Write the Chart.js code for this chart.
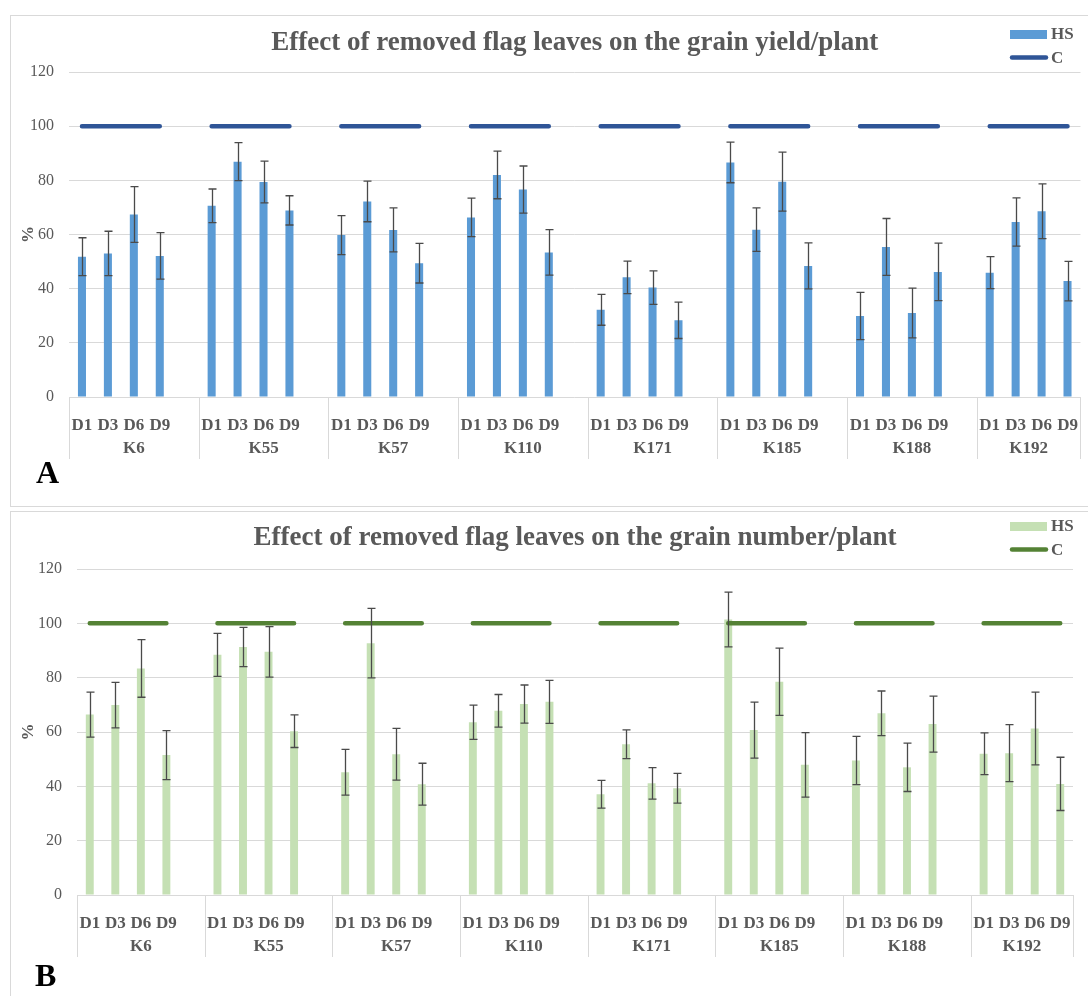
<!DOCTYPE html>
<html>
<head>
<meta charset="utf-8">
<script src="https://cdn.jsdelivr.net/npm/chart.js@4.4.1/dist/chart.umd.min.js"></script>
<style>
html,body{margin:0;padding:0;background:#fff;width:1088px;height:996px;overflow:hidden;position:relative;font-family:"Liberation Serif",serif;}
.panel{position:absolute;border:1px solid #d9d9d9;box-sizing:border-box;}
#pA{left:10px;top:15px;width:1100px;height:492px;}
#pB{left:10px;top:511px;width:1100px;height:490px;}
canvas{position:absolute;left:0;}
#cA{top:0;}
#cB{top:506px;}
.lab{position:absolute;font:bold 32px/32px "Liberation Serif",serif;color:#000;}
</style>
</head>
<body>
<div class="panel" id="pA"></div>
<div class="panel" id="pB"></div>
<canvas id="cA" width="1088" height="506"></canvas>
<canvas id="cB" width="1088" height="490"></canvas>
<div class="lab" style="left:36px;top:456px;">A</div>
<div class="lab" style="left:35px;top:959px;">B</div>
<script>
// ---------- data ----------
const groups = ['K6','K55','K57','K110','K171','K185','K188','K192'];
const days = ['D1','D3','D6','D9'];
const yTicks = [0,20,40,60,80,100,120];
const controlValue = 100;

// Panel A: grain yield/plant (%), HS means and error
const yieldHS  = [51.8,53.0,67.4,52.1, 70.6,86.9,79.4,68.9, 59.8,72.2,61.7,49.4, 66.3,82.0,76.6,53.4,
                  32.2,44.2,40.4,28.3, 86.6,61.8,79.5,48.4, 29.9,55.4,31.0,46.2, 45.9,64.6,68.6,42.8];
const yieldErr = [7.0,8.2,10.3,8.6, 6.2,7.0,7.7,5.4, 7.2,7.5,8.1,7.3, 7.1,8.8,8.7,8.4,
                  5.7,6.0,6.2,6.7, 7.5,8.0,10.9,8.5, 8.7,10.5,9.2,10.6, 5.9,8.9,10.1,7.3];

// Panel B: grain number/plant (%), HS means and error
const numberHS  = [66.4,69.9,83.4,51.5, 88.4,91.3,89.5,60.3, 45.2,92.7,51.8,40.8, 63.6,67.8,70.3,71.1,
                   37.1,55.5,41.1,39.3, 101.4,60.7,78.5,47.9, 49.5,66.9,47.0,62.9, 52.0,52.2,61.3,40.9];
const numberErr = [8.3,8.4,10.6,9.0, 7.9,7.2,9.3,6.0, 8.4,12.8,9.5,7.7, 6.3,6.0,7.0,7.9,
                   5.1,5.3,5.8,5.5, 10.1,10.3,12.4,11.9, 8.9,8.2,8.9,10.3, 7.7,10.5,13.4,9.8];

// ---------- helpers: one blank slot between groups ----------
function slotLabels(){
  const out=[];
  groups.forEach((g,gi)=>{ days.forEach(d=>out.push(d)); if(gi<groups.length-1) out.push(''); });
  return out;
}
function slotData(vals){
  const out=[];
  groups.forEach((g,gi)=>{ days.forEach((d,di)=>out.push(vals==null?controlValue:vals[gi*days.length+di])); if(gi<groups.length-1) out.push(null); });
  return out;
}

const TXT='#595959', GRID='#d9d9d9', SERIF='"Liberation Serif", "Times New Roman", serif';

const errorBars = {
  id:'errorBars',
  afterDatasetsDraw(chart){
    const ctx=chart.ctx, y=chart.scales.y;
    chart.data.datasets.forEach((ds,i)=>{
      if(!ds.errors) return;
      const meta=chart.getDatasetMeta(i);
      ctx.save();
      ctx.strokeStyle='#4a4a4a'; ctx.lineWidth=1.3;
      meta.data.forEach((el,j)=>{
        const v=ds.data[j], e=ds.errors[j];
        if(v==null||e==null) return;
        const x=Math.round(el.x)+0.5, t=y.getPixelForValue(v+e), b=y.getPixelForValue(v-e);
        ctx.beginPath();
        ctx.moveTo(x,t); ctx.lineTo(x,b);
        ctx.moveTo(x-4,t); ctx.lineTo(x+4,t);
        ctx.moveTo(x-4,b); ctx.lineTo(x+4,b);
        ctx.stroke();
      });
      ctx.restore();
    });
  }
};

const groupAxis = {
  id:'groupAxis',
  afterDraw(chart){
    const x=chart.scales.x, ctx=chart.ctx, ca=chart.chartArea;
    const half=(x.getPixelForTick(1)-x.getPixelForTick(0))/2;
    ctx.save();
    ctx.font='bold 17px '+SERIF; ctx.fillStyle=TXT; ctx.textAlign='center'; ctx.textBaseline='middle';
    const edges=[]; let slot=0;
    groups.forEach((g,gi)=>{
      const n=days.length+(gi<groups.length-1?1:0);
      const l=x.getPixelForTick(slot)-half, r=x.getPixelForTick(slot+n-1)+half;
      edges.push(l); if(gi===groups.length-1) edges.push(r);
      ctx.fillText(g,(l+r)/2,ca.bottom+52);
      slot+=n;
    });
    ctx.strokeStyle=GRID; ctx.lineWidth=1;
    edges.forEach(e=>{ const px=Math.round(e)+0.5; ctx.beginPath(); ctx.moveTo(px,ca.bottom); ctx.lineTo(px,ca.bottom+62); ctx.stroke(); });
    ctx.restore();
  }
};

const boxLegend = {
  id:'boxLegend',
  afterDraw(chart,args,o){
    const ctx=chart.ctx, ds=chart.data.datasets;
    ctx.save();
    ctx.fillStyle=ds[0].backgroundColor; ctx.fillRect(o.x,o.y,37,9);
    ctx.strokeStyle=ds[1].borderColor; ctx.lineWidth=4.5; ctx.lineCap='round';
    ctx.beginPath(); ctx.moveTo(o.x+2,o.y+27.5); ctx.lineTo(o.x+36,o.y+27.5); ctx.stroke();
    ctx.fillStyle=TXT; ctx.font='bold 17px '+SERIF; ctx.textBaseline='middle'; ctx.textAlign='left';
    ctx.fillText(ds[0].label,o.x+41,o.y+5);
    ctx.fillText(ds[1].label,o.x+41,o.y+28.5);
    ctx.restore();
  }
};

function makeChart(id, p){
  return new Chart(document.getElementById(id), {
    data:{
      labels: slotLabels(),
      datasets:[
        {type:'bar', label:'HS', data:slotData(p.values), errors:slotData(p.errors),
         backgroundColor:p.barColor, borderWidth:0, barPercentage:0.31, categoryPercentage:1, order:2},
        {type:'line', label:'C', data:slotData(null), borderColor:p.lineColor, borderWidth:4.5,
         borderCapStyle:'round', pointRadius:0, spanGaps:false, fill:false, order:1}
      ]
    },
    options:{
      responsive:false, animation:false, devicePixelRatio:1,
      layout:{padding:{left:0,right:p.padRight,top:0,bottom:p.padBottom}},
      plugins:{
        legend:{display:false}, tooltip:{enabled:false},
        title:{display:true, text:p.title, color:TXT, fullSize:false,
               font:{family:SERIF, size:27, weight:'bold', lineHeight:1.2},
               padding:{top:p.titleTop, bottom:p.titleBottom}},
        boxLegend:{x:1010, y:p.legendY}
      },
      scales:{
        x:{type:'category', offset:true,
           grid:{display:false}, border:{display:false},
           ticks:{autoSkip:false, maxRotation:0, minRotation:0, padding:10, color:TXT,
                  font:{family:SERIF, size:17, weight:'bold'}},
           afterFit(s){ s.height=62; }},
        y:{min:0, max:120, afterBuildTicks(s){ s.ticks=yTicks.map(v=>({value:v})); },
           grid:{color:GRID, lineWidth:1, drawTicks:false}, border:{display:false},
           ticks:{padding:15, color:TXT, font:{family:SERIF, size:16}},
           title:{display:true, text:'%', color:TXT, font:{family:SERIF, size:17, weight:'bold'}, padding:{top:18,bottom:0}},
           afterFit(s){ s.width=p.yWidth; }}
      }
    },
    plugins:[errorBars, groupAxis, boxLegend]
  });
}

makeChart('cA', {values:yieldHS, errors:yieldErr, barColor:'#5b9bd5', lineColor:'#2f5597',
  title:'Effect of removed flag leaves on the grain yield/plant',
  titleTop:27, titleBottom:12.6, padRight:7, padBottom:47, yWidth:69, legendY:30});
makeChart('cB', {values:numberHS, errors:numberErr, barColor:'#c5e0b4', lineColor:'#548235',
  title:'Effect of removed flag leaves on the grain number/plant',
  titleTop:16, titleBottom:14.6, padRight:15, padBottom:39, yWidth:77, legendY:16});
</script>
</body>
</html>
